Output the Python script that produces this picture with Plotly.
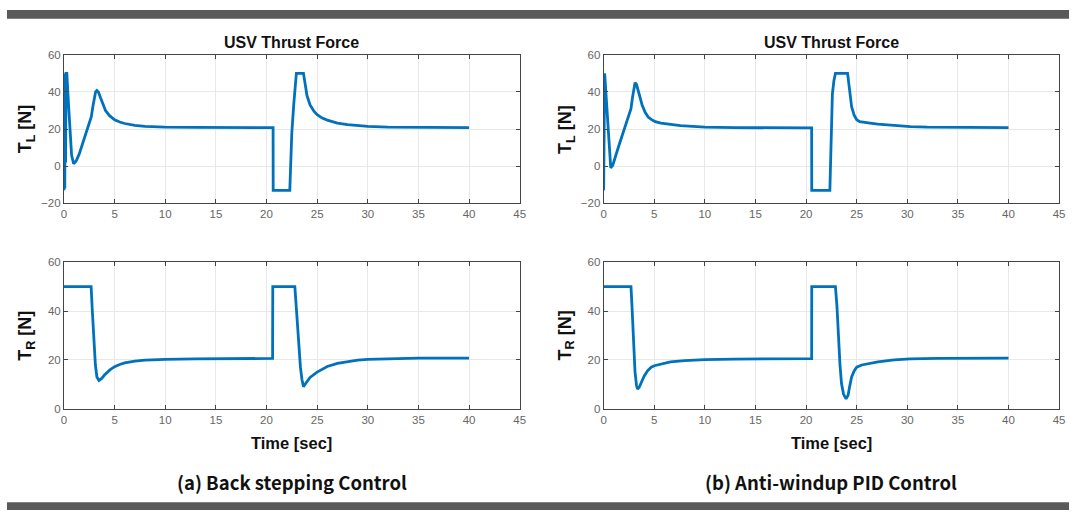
import plotly.graph_objects as go

# ---- Back stepping control: left thrust T_L ----
bs_tl_t = [0, 0.04, 0.08, 0.12, 0.16, 0.2, 0.28, 0.45, 0.6, 0.75, 0.95, 1.2, 1.5, 1.8, 2.1, 2.4, 2.7,
           2.85, 3.0, 3.12, 3.25, 3.4, 3.6, 3.85, 4.1, 4.5, 5.0, 5.5, 6.0, 7.0, 8.0, 10.0, 13.0, 20.65,
           20.66, 22.3, 22.5, 22.7, 22.95, 23.65, 23.8, 24.0, 24.3, 24.7, 25.0, 25.5, 26.0, 27.0, 28.0,
           29.0, 30.0, 32.0, 35.0, 40.0]
bs_tl_v = [-13, 50, -12, 50, 2, 50, 50, 33, 16, 6, 1.3, 2.8, 6.5, 11.5, 16.5, 21.5, 26.7,
           32, 37.5, 40, 40.8, 40, 37, 33, 30, 27.2, 25, 23.8, 23, 22, 21.5, 21.1, 20.9, 20.8,
           -13, -13, 18, 34, 50, 50, 44, 38, 33, 29.5, 27.8, 25.9, 24.8, 23.2, 22.4,
           21.9, 21.5, 21.1, 20.9, 20.8]

# ---- Back stepping control: right thrust T_R ----
bs_tr_t = [0, 2.68, 2.8, 2.95, 3.1, 3.25, 3.45, 3.7, 4.0, 4.5, 5.0, 5.5, 6.0, 7.0, 8.0, 10.0, 13.0,
           20.6, 20.62, 22.8, 22.95, 23.15, 23.35, 23.5, 23.65, 23.9, 24.3, 25.0, 25.5, 26.0, 27.0,
           28.0, 29.0, 30.0, 32.0, 35.0, 40.0]
bs_tr_v = [50, 50, 40, 28, 18, 13, 11.6, 12.3, 13.8, 15.8, 17.2, 18.1, 18.8, 19.5, 19.9, 20.2, 20.4,
           20.6, 50, 50, 40, 28, 17, 12, 9, 10.5, 12.8, 15, 16.3, 17.3, 18.6,
           19.4, 19.9, 20.2, 20.5, 20.7, 20.7]

# ---- Anti-windup PID control: left thrust T_L ----
pid_tl_t = [0, 0.05, 0.1, 0.7, 0.9, 1.5, 2.2, 2.7, 2.85, 3.0, 3.1, 3.25, 3.5, 3.8, 4.1, 4.4, 4.7,
            5.1, 5.65, 6.5, 7.6, 10.0, 13.0, 20.55, 20.56, 22.35, 22.6, 22.75, 22.9, 24.1, 24.3,
            24.5, 24.75, 25.0, 25.3, 25.6, 26.5, 27.1, 28.7, 30.3, 32.0, 35.0, 40.0]
pid_tl_v = [-13, 50, 50, -0.9, 0.5, 11, 22, 31, 37, 43, 45, 44, 39, 33, 29, 26.5, 25.2,
            24, 23.2, 22.5, 21.8, 21.1, 20.8, 20.6, -13, -13, 39, 46, 50, 50, 40,
            32, 27.5, 25, 24, 23.7, 23.1, 22.7, 21.8, 21.3, 21.0, 20.8, 20.8]

# ---- Anti-windup PID control: right thrust T_R ----
pid_tr_t = [0, 2.7, 2.8, 2.95, 3.1, 3.25, 3.35, 3.5, 3.75, 4.0, 4.35, 4.7, 5.0, 5.5, 6.6, 8.0, 10.0,
            13.0, 20.55, 20.56, 22.9, 23.05, 23.2, 23.35, 23.5, 23.7, 23.95, 24.15, 24.3, 24.5,
            24.75, 25.0, 25.5, 26.3, 27.1, 28.7, 30.3, 33.0, 40.0]
pid_tr_v = [50, 50, 42, 28, 15, 9.5, 8, 8.7, 11, 13.3, 15.6, 17, 17.6, 18.2, 19.2, 19.7, 20.1,
            20.3, 20.5, 50, 50, 42, 29, 18, 10.3, 6, 4, 5.5, 9, 13,
            15.5, 17, 17.9, 18.6, 19.2, 20.0, 20.4, 20.6, 20.7]

x_ticks = [0, 5, 10, 15, 20, 25, 30, 35, 40, 45]
tl_ticks = [-20, 0, 20, 40, 60]
tr_ticks = [0, 20, 40, 60]

panel_titles = ["USV Thrust Force", "USV Thrust Force"]
captions = ["(a) Back stepping Control", "(b) Anti-windup PID Control"]
x_label = "Time [sec]"
tl_label = "<b>T<sub>L</sub> [N]</b>"
tr_label = "<b>T<sub>R</sub> [N]</b>"

W, H = 1079, 516
LINE = "#0072BD"
SANS = "Arial, Liberation Sans, sans-serif"


def px_x(p):
    return p / W


def px_y(p):
    return 1 - p / H


x_doms = [(px_x(61.5), px_x(521)), (px_x(605.7), px_x(1065))]
y_doms = [(px_y(202), px_y(50)), (px_y(412.3), px_y(262.3))]

fig = go.Figure()

series = [
    (bs_tl_t, bs_tl_v), (bs_tr_t, bs_tr_v),
    (pid_tl_t, pid_tl_v), (pid_tr_t, pid_tr_v),
]

axis_font = dict(family=SANS, size=11.5, color="#666666")

layout = {}
idx = 0
for col in range(2):
    for row in range(2):
        idx += 1
        t, v = series[idx - 1]
        xa = "x" if idx == 1 else f"x{idx}"
        ya = "y" if idx == 1 else f"y{idx}"
        fig.add_trace(go.Scatter(x=t, y=v, mode="lines", xaxis=xa, yaxis=ya,
                                 line=dict(color=LINE, width=2.8), showlegend=False,
                                 hoverinfo="skip"))
        xkey = "xaxis" if idx == 1 else f"xaxis{idx}"
        ykey = "yaxis" if idx == 1 else f"yaxis{idx}"
        layout[xkey] = dict(
            domain=list(x_doms[col]), anchor=ya, range=[0, 45], tickvals=x_ticks,
            showgrid=True, gridcolor="#e8e8e8", gridwidth=1, zeroline=False,
            showline=True, linecolor="#444", linewidth=1, mirror="ticks",
            ticks="inside", ticklen=4, tickcolor="#444", tickfont=axis_font,
            fixedrange=True,
        )
        yticks = tl_ticks if row == 0 else tr_ticks
        yr = [-20, 60] if row == 0 else [0, 60]
        layout[ykey] = dict(
            domain=list(y_doms[row]), anchor=xa, range=yr, tickvals=yticks,
            showgrid=True, gridcolor="#e8e8e8", gridwidth=1, zeroline=False,
            showline=True, linecolor="#444", linewidth=1, mirror="ticks",
            ticks="inside", ticklen=4, tickcolor="#444", tickfont=axis_font,
            fixedrange=True,
        )

fig.update_layout(**layout)

annotations = []
for col in range(2):
    cx = (x_doms[col][0] + x_doms[col][1]) / 2
    annotations.append(dict(text=f"<b>{panel_titles[col]}</b>", x=cx, y=px_y(37),
                            xref="paper", yref="paper", showarrow=False,
                            xanchor="center", yanchor="middle",
                            font=dict(family=SANS, size=16, color="#111")))
    annotations.append(dict(text=f"<b>{x_label}</b>", x=cx, y=px_y(447),
                            xref="paper", yref="paper", showarrow=False,
                            xanchor="center", yanchor="middle",
                            font=dict(family=SANS, size=16.5, color="#111")))
    annotations.append(dict(text=captions[col], x=cx, y=px_y(487),
                            xref="paper", yref="paper", showarrow=False,
                            xanchor="center", yanchor="middle",
                            font=dict(family="Noto Sans CJK KR", size=18.5, color="#111", weight=600)))
    lx = px_x(61.5 - 38) if col == 0 else px_x(605.7 - 38)
    annotations.append(dict(text=tl_label, x=lx, y=(y_doms[0][0] + y_doms[0][1]) / 2,
                            xref="paper", yref="paper", showarrow=False, textangle=-90,
                            xanchor="center", yanchor="middle",
                            font=dict(family=SANS, size=18, color="#111")))
    annotations.append(dict(text=tr_label, x=lx, y=(y_doms[1][0] + y_doms[1][1]) / 2,
                            xref="paper", yref="paper", showarrow=False, textangle=-90,
                            xanchor="center", yanchor="middle",
                            font=dict(family=SANS, size=18, color="#111")))

# dark rules above and below the figure
shapes = [
    dict(type="rect", xref="paper", yref="paper", x0=px_x(4), x1=px_x(1075),
         y0=px_y(13), y1=px_y(4), fillcolor="#5a5a5a", line=dict(width=0), layer="below"),
    dict(type="rect", xref="paper", yref="paper", x0=px_x(4), x1=px_x(1075),
         y0=px_y(516), y1=px_y(508), fillcolor="#5a5a5a", line=dict(width=0), layer="below"),
]

fig.update_layout(
    width=W, height=H, margin=dict(l=0, r=0, t=0, b=0),
    paper_bgcolor="white", plot_bgcolor="white",
    annotations=annotations, shapes=shapes, showlegend=False,
)

# remove the default page margin so the figure sits flush in the window
fig.write_html("out.html", config={"displayModeBar": False},
               post_script="document.body.style.margin='0';")
